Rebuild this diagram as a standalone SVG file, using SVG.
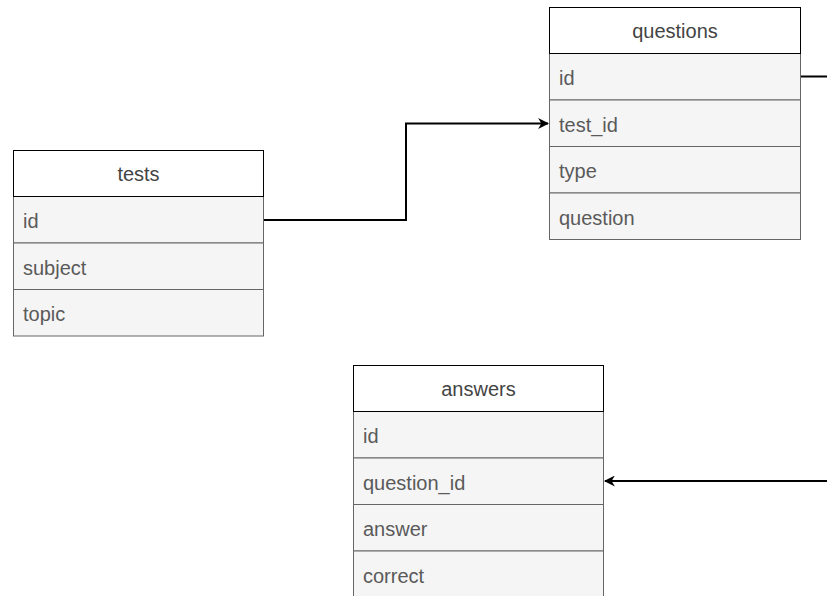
<svg xmlns="http://www.w3.org/2000/svg" width="827" height="596" viewBox="0 0 827 596">
<style>
.hdr{fill:#fff;stroke:#000;stroke-width:1}
.row{fill:#f5f5f5;stroke:#666;stroke-width:1}
.ht{font-family:"Liberation Sans",Arial,sans-serif;font-size:20px;fill:#444;text-anchor:middle}
.rt{font-family:"Liberation Sans",Arial,sans-serif;font-size:20px;fill:#5a5a5a}
.edge{fill:none;stroke:#000;stroke-width:2}
</style>
<defs>
<marker id="arr" viewBox="0 0 10 10" refX="9" refY="5" markerWidth="11" markerHeight="11" markerUnits="userSpaceOnUse" orient="auto">
<path d="M0,0 L10,5 L0,10 L3,5 Z" fill="#000"/>
</marker>
</defs>
<g id="tests">
<rect class="row" x="13.5" y="196.5" width="250" height="46.5"/>
<rect class="row" x="13.5" y="243" width="250" height="46.5"/>
<rect class="row" x="13.5" y="289.5" width="250" height="46.5"/>
<rect class="hdr" x="13.5" y="150.5" width="250" height="46"/>
<text class="ht" x="138.5" y="181">tests</text>
<text class="rt" x="23" y="228">id</text>
<text class="rt" x="23" y="274.5">subject</text>
<text class="rt" x="23" y="321">topic</text>
</g>
<g id="questions">
<rect class="row" x="549.5" y="53.5" width="251" height="46.5"/>
<rect class="row" x="549.5" y="100" width="251" height="46.5"/>
<rect class="row" x="549.5" y="146.5" width="251" height="46.5"/>
<rect class="row" x="549.5" y="193" width="251" height="46.5"/>
<rect class="hdr" x="549.5" y="7.5" width="251" height="46"/>
<text class="ht" x="675" y="38">questions</text>
<text class="rt" x="559" y="85">id</text>
<text class="rt" x="559" y="131.5">test_id</text>
<text class="rt" x="559" y="178">type</text>
<text class="rt" x="559" y="224.5">question</text>
</g>
<g id="answers">
<rect class="row" x="353.5" y="411.5" width="250" height="46.5"/>
<rect class="row" x="353.5" y="458" width="250" height="46.5"/>
<rect class="row" x="353.5" y="504.5" width="250" height="46.5"/>
<rect class="row" x="353.5" y="551" width="250" height="46.5"/>
<rect class="hdr" x="353.5" y="365.5" width="250" height="46"/>
<text class="ht" x="478.5" y="396">answers</text>
<text class="rt" x="363" y="443">id</text>
<text class="rt" x="363" y="489.5">question_id</text>
<text class="rt" x="363" y="536">answer</text>
<text class="rt" x="363" y="582.5">correct</text>
</g>
<g id="connectors">
<path class="edge" d="M264,220 H406 V123.5 H548" marker-end="url(#arr)"/>
<path class="edge" d="M801,76.5 H827"/>
<path class="edge" d="M827,481 H605" marker-end="url(#arr)"/>
</g>
</svg>
